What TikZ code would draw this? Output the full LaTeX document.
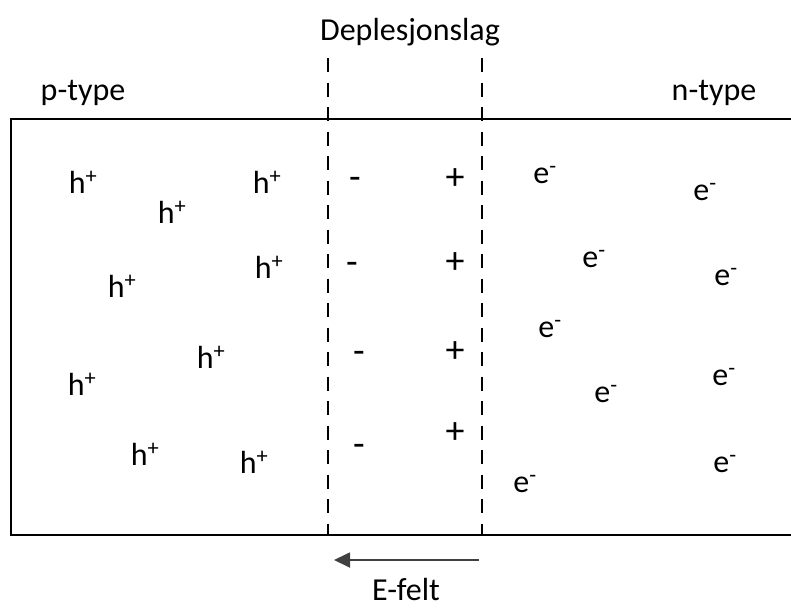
\documentclass[tikz,border=0pt]{standalone}
\usepackage{fontspec}
\setmainfont{Carlito}
\usetikzlibrary{arrows.meta}

\begin{document}
\begin{tikzpicture}[x=1pt,y=-1pt,
	lbl/.style={inner sep=0pt, anchor=base, font=\fontsize{32}{38}\selectfont},
	charge/.style={inner sep=0pt, anchor=center, font=\fontsize{38}{44}\selectfont},
	border/.style={line width=2.6pt},
	junction/.style={line width=2.6pt, dash pattern=on 14pt off 10.5pt},
	field/.style={line width=1.8pt, black!75, -{Triangle[length=16pt,width=15pt]}}]

	\useasboundingbox (0,0) rectangle (791,608);

	% the two sides
	\node[lbl] (ptype) at (83,100) {p-type};
	\node[lbl] (ntype) at (714,100) {n-type};
	\node[lbl] (depl) at (410,40) {Deplesjonslag};

	\coordinate (tl) at (11,119);
	\coordinate (bl) at (11,535);
	\coordinate (tr) at (791,119);
	\coordinate (br) at (791,535);
	\draw[border] (tr) -- (tl) -- (bl) -- (br);

	% edges of the depletion layer
	\coordinate (dla) at (328,58);
	\coordinate (dlb) at (328,535);
	\coordinate (dra) at (482,58);
	\coordinate (drb) at (482,535);
	\draw[junction] (dla) -- (dlb);
	\draw[junction] (dra) -- (drb);

	% holes
	\node[lbl] (h1) at (83,193) {h\textsuperscript{+}};
	\node[lbl] (h2) at (172,223) {h\textsuperscript{+}};
	\node[lbl] (h3) at (267,193) {h\textsuperscript{+}};
	\node[lbl] (h4) at (122,297) {h\textsuperscript{+}};
	\node[lbl] (h5) at (269,278) {h\textsuperscript{+}};
	\node[lbl] (h6) at (211,368) {h\textsuperscript{+}};
	\node[lbl] (h7) at (82,395) {h\textsuperscript{+}};
	\node[lbl] (h8) at (145,465) {h\textsuperscript{+}};
	\node[lbl] (h9) at (254,473) {h\textsuperscript{+}};

	% fixed charges
	\node[charge] (neg1) at (355,183) {-};
	\node[charge] (neg2) at (352,268) {-};
	\node[charge] (neg3) at (359,357) {-};
	\node[charge] (neg4) at (359,450) {-};
	\node[charge] (pos1) at (455,179) {+};
	\node[charge] (pos2) at (455,263) {+};
	\node[charge] (pos3) at (455,352) {+};
	\node[charge] (pos4) at (455,433) {+};

	% electrons
	\node[lbl] (e1) at (545,183) {e\textsuperscript{-}};
	\node[lbl] (e2) at (705,200) {e\textsuperscript{-}};
	\node[lbl] (e3) at (594,267) {e\textsuperscript{-}};
	\node[lbl] (e4) at (726,285) {e\textsuperscript{-}};
	\node[lbl] (e5) at (550,337) {e\textsuperscript{-}};
	\node[lbl] (e6) at (724,385) {e\textsuperscript{-}};
	\node[lbl] (e7) at (606,402) {e\textsuperscript{-}};
	\node[lbl] (e8) at (525,492) {e\textsuperscript{-}};
	\node[lbl] (e9) at (725,472) {e\textsuperscript{-}};

	% field
	\coordinate (fa) at (479,560);
	\coordinate (fb) at (334,560);
	\draw[field] (fa) -- (fb);
	\node[lbl] (efelt) at (406,600) {E-felt};

\end{tikzpicture}
\end{document}
